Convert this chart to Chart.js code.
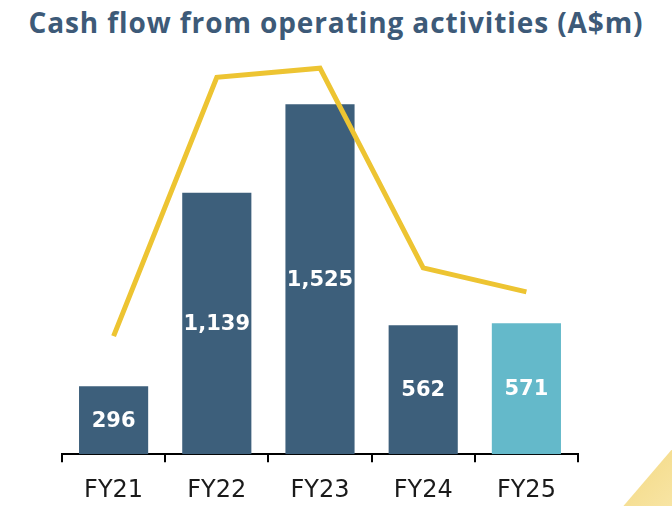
<!DOCTYPE html>
<html>
<head>
<meta charset="utf-8">
<script src="https://cdn.jsdelivr.net/npm/chart.js@4"></script>
<style>
  html, body { margin: 0; padding: 0; background: #fff; }
  body { width: 672px; height: 506px; position: relative; overflow: hidden; }
  #wrap { position: absolute; left: 0; top: 0; width: 672px; height: 523px; }
  .title {
    position: absolute; left: 0; top: 3px; width: 672px; text-align: center;
    font: bold 28px/38px "Open Sans", sans-serif; letter-spacing: 0.9px;
    color: #3d5a78; white-space: nowrap;
  }
  .corner {
    position: absolute; left: 620px; top: 440px; width: 60px; height: 70px;
    background: linear-gradient(135deg, #f3d77e, #f8e6a8);
    clip-path: polygon(100% 0, 100% 100%, 0 100%);
  }
</style>
</head>
<body>
<div class="corner"></div>
<div class="title">Cash flow from operating activities (A$m)</div>
<div id="wrap"><canvas id="cashChart" width="672" height="523"></canvas></div>
<script>
// data
const years = ['FY21', 'FY22', 'FY23', 'FY24', 'FY25'];
const cashFlow = [296, 1139, 1525, 562, 571];
const cashLabels = ['296', '1,139', '1,525', '562', '571'];
// yellow line has no labels, values estimated on a 0-100 hidden scale
const lineValues = [28.5, 91.0, 93.2, 45.0, 39.2];

const darkBlue = '#3d5f7b';
const lightBlue = '#64b9ca';
const yellow = '#edc432';

// white value labels in the middle of each bar
const barLabels = {
    id: 'barLabels',
    afterDatasetsDraw(chart) {
        const ctx = chart.ctx;
        const meta = chart.getDatasetMeta(1);
        ctx.save();
        ctx.fillStyle = '#ffffff';
        ctx.font = 'bold 21px "DejaVu Sans"';
        ctx.textAlign = 'center';
        ctx.textBaseline = 'middle';
        meta.data.forEach((bar, i) => {
            const mid = (bar.y + bar.base) / 2;
            ctx.fillText(cashLabels[i], bar.x, mid + 1);
        });
        ctx.restore();
    }
};

new Chart(document.getElementById('cashChart'), {
    type: 'bar',
    data: {
        labels: years,
        datasets: [{
            type: 'line',
            data: lineValues,
            yAxisID: 'y2',
            borderColor: yellow,
            borderWidth: 5,
            pointRadius: 0,
            tension: 0,
            fill: false,
            order: 0
        }, {
            data: cashFlow,
            yAxisID: 'y',
            backgroundColor: [darkBlue, darkBlue, darkBlue, darkBlue, lightBlue],
            categoryPercentage: 1,
            barPercentage: 0.67,
            order: 1
        }]
    },
    options: {
        responsive: false,
        animation: false,
        layout: { padding: { left: 62, right: 94, top: 40, bottom: 4 } },
        scales: {
            x: {
                offset: true,
                grid: { offset: true, drawOnChartArea: false, drawTicks: true, tickLength: 8, color: '#000', lineWidth: 2 },
                border: { color: '#000', width: 2 },
                ticks: { color: '#1a1a1a', font: { family: 'DejaVu Sans', size: 24 }, padding: 14 }
            },
            y: { display: false, min: 0, max: 1805 },
            y2: { display: false, min: 0, max: 100 }
        },
        plugins: {
            legend: { display: false },
            tooltip: { enabled: false }
        }
    },
    plugins: [barLabels]
});
</script>
</body>
</html>
